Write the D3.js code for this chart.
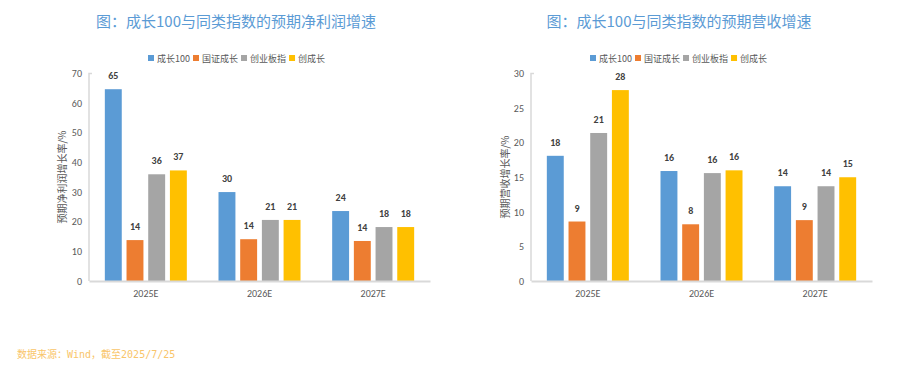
<!DOCTYPE html>
<html>
<head>
<meta charset="utf-8">
<script src="https://cdn.jsdelivr.net/npm/d3@7"></script>
<style>
  body { margin: 0; background: #fff; }
  svg { display: block; font-family: "Microsoft YaHei", "Noto Sans CJK SC", sans-serif; }
</style>
</head>
<body>
<svg id="chart" width="903" height="390"></svg>
<script>
// data
var years = ["2025E", "2026E", "2027E"];
var seriesNames = ["成长100", "国证成长", "创业板指", "创成长"];
var colors = ["#5B9BD5", "#ED7D31", "#A5A5A5", "#FFC000"];

// 预期净利润增长率
var profit100 = [64.7, 30.0, 23.6];
var profitGz = [13.8, 14.1, 13.5];
var profitCyb = [36.0, 20.6, 18.2];
var profitCcz = [37.3, 20.6, 18.2];
var profitTicks = [0, 10, 20, 30, 40, 50, 60, 70];

// 预期营收增长率
var revenue100 = [18.1, 15.9, 13.7];
var revenueGz = [8.6, 8.2, 8.8];
var revenueCyb = [21.4, 15.6, 13.7];
var revenueCcz = [27.6, 16.0, 15.0];
var revenueTicks = [0, 5, 10, 15, 20, 25, 30];

var svg = d3.select("#chart");
var numFont = "Carlito, Calibri, 'Liberation Sans', sans-serif";

function drawPanel(opt){
  var g = svg.append("g");
  var series = opt.series;

  // title
  g.append("text")
    .attr("x", opt.titleX).attr("y", 27)
    .attr("text-anchor", "middle")
    .attr("font-size", 15)
    .attr("fill", "#5B9BD5")
    .text(opt.title);

  // legend
  var lg = g.append("g").attr("transform", "translate(" + opt.legendX + ",59)");
  var lx = 0;
  seriesNames.forEach(function(name, i){
    lg.append("rect").attr("x", lx).attr("y", -4).attr("width", 6).attr("height", 6).attr("fill", colors[i]);
    var t = lg.append("text").attr("x", lx + 9).attr("y", 2.5)
      .attr("font-size", 9).attr("fill", "#595959").text(name);
    lx += 9 + t.node().getComputedTextLength() + 3;
  });

  var x0 = d3.scaleBand().domain(years).range([opt.left, opt.right]);
  var x1 = d3.scaleBand().domain(d3.range(4)).range([-41, 41]).paddingInner(0.22);
  var y = d3.scaleLinear().domain([0, opt.max]).range([281, 73.5]);

  // y axis
  var ya = g.append("g").attr("transform", "translate(" + opt.left + ",0)")
    .call(d3.axisLeft(y).tickValues(opt.ticks).tickSize(0).tickPadding(7));
  ya.select(".domain").remove();
  ya.selectAll("text").attr("font-size", 10).attr("fill", "#595959")
    .attr("font-family", numFont);
  g.append("path")
    .attr("d", "M" + (opt.left + 3) + "," + y(opt.max) + "H" + opt.left + "V" + y(0))
    .attr("fill", "none").attr("stroke", "#d9d9d9").attr("stroke-width", 1.5);

  // bars
  var groups = g.selectAll(".grp").data(years).enter().append("g")
    .attr("transform", function(d){ return "translate(" + (x0(d) + x0.bandwidth() / 2) + ",0)"; });

  groups.each(function(yr, j){
    var gg = d3.select(this);
    var vals = series.map(function(s){ return s[j]; });
    gg.selectAll("rect").data(vals).enter().append("rect")
      .attr("x", function(d, i){ return x1(i); })
      .attr("width", x1.bandwidth())
      .attr("y", function(d){ return y(d); })
      .attr("height", function(d){ return y(0) - y(d); })
      .attr("fill", function(d, i){ return colors[i]; });
    gg.selectAll(".lbl").data(vals).enter().append("text")
      .attr("x", function(d, i){ return x1(i) + x1.bandwidth() / 2; })
      .attr("y", function(d){ return y(d) - 10; })
      .attr("text-anchor", "middle")
      .attr("font-size", 10)
      .attr("font-weight", "bold")
      .attr("fill", "#404040")
      .attr("font-family", numFont)
      .text(function(d){ return d3.format(".0f")(d); });
  });

  // x axis
  var xa = g.append("g").attr("transform", "translate(0," + y(0) + ")")
    .call(d3.axisBottom(x0).tickSize(0).tickPadding(9));
  xa.select(".domain").attr("stroke", "#d9d9d9").attr("stroke-width", 2);
  xa.selectAll("text").attr("font-size", 10).attr("fill", "#595959")
    .attr("font-family", numFont);

  // y axis title
  g.append("text")
    .attr("transform", "translate(" + opt.ylabX + ",177) rotate(-90)")
    .attr("text-anchor", "middle")
    .attr("font-size", 10)
    .attr("fill", "#595959")
    .text(opt.ylab);
}

drawPanel({
  title: "图：成长100与同类指数的预期净利润增速",
  titleX: 236, legendX: 148,
  left: 89, right: 430, max: 70, ticks: profitTicks,
  series: [profit100, profitGz, profitCyb, profitCcz],
  ylab: "预期净利润增长率/%", ylabX: 66
});

drawPanel({
  title: "图：成长100与同类指数的预期营收增速",
  titleX: 679, legendX: 590,
  left: 531, right: 872, max: 30, ticks: revenueTicks,
  series: [revenue100, revenueGz, revenueCyb, revenueCcz],
  ylab: "预期营收增长率/%", ylabX: 509
});

// source note
svg.append("text")
  .attr("x", 17).attr("y", 358)
  .attr("font-size", 10)
  .attr("fill", "#F9C56A")
  .attr("font-family", "'DejaVu Sans Mono', 'Liberation Mono', 'Noto Sans CJK SC', monospace")
  .text("数据来源：Wind，截至2025/7/25");
</script>
</body>
</html>
